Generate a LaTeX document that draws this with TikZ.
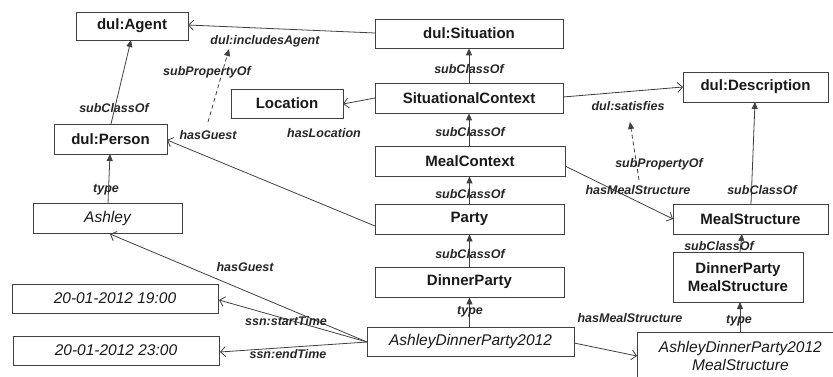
\documentclass[tikz,border=0pt]{standalone}
\usepackage{fontspec}
\setmainfont{Liberation Sans}
\usetikzlibrary{arrows.meta}
\definecolor{ln}{HTML}{404040}
\begin{document}
\begin{tikzpicture}[x=1pt,y=-1pt,
  box/.style={draw=ln,line width=0.8pt,rectangle,inner sep=0pt,font=\fontsize{15}{18}\selectfont\bfseries,text=black!90},
  ibox/.style={box,font=\fontsize{15.5}{18}\selectfont\itshape},
  lbl/.style={font=\fontsize{12.5}{14}\selectfont\bfseries\itshape,text=black!85,inner sep=0pt},
  sub/.style={draw=ln,line width=0.8pt,-{Triangle[length=7pt,width=6pt]}},
  rel/.style={draw=ln,line width=0.8pt,-{Straight Barb[length=5pt,width=10pt]}},
  subp/.style={draw=ln,line width=0.8pt,dashed,dash pattern=on 4pt off 3pt,-{Triangle[length=7pt,width=6pt]}}
]
\useasboundingbox (0,0) rectangle (833,377);
\begin{scope}
\clip (0,0) rectangle (833,377);
\node[box,minimum width=112pt,minimum height=28pt] (agent) at (132,26) {dul:Agent};
\node[box,minimum width=188pt,minimum height=29pt] (situation) at (469,33.5) {dul:Situation};
\node[box,minimum width=112pt,minimum height=29pt] (location) at (287,103.5) {Location};
\node[box,minimum width=188pt,minimum height=30pt] (sitctx) at (469,98) {SituationalContext};
\node[box,minimum width=190pt,minimum height=30pt] (mealctx) at (470,161) {MealContext};
\node[box,minimum width=145pt,minimum height=30pt] (desc) at (755.5,87) {dul:Description};
\node[box,minimum width=113pt,minimum height=30pt] (person) at (110.5,139) {dul:Person};
\node[ibox,minimum width=149pt,minimum height=30pt] (ashley) at (107.5,218) {Ashley};
\node[box,minimum width=189pt,minimum height=30pt] (party) at (469.5,219) {Party};
\node[box,minimum width=189pt,minimum height=30pt] (dinner) at (469.5,282) {DinnerParty};
\node[ibox,minimum width=207pt,minimum height=29pt] (adp) at (470.5,341.5) {AshleyDinnerParty2012};
\node[box,minimum width=155pt,minimum height=30pt] (mstruct) at (750.5,219) {MealStructure};
\node[box,minimum width=130pt,minimum height=50pt,align=center] (dpms) at (738,277) {DinnerParty\\MealStructure};
\node[ibox,minimum width=206pt,minimum height=47pt,align=center,anchor=north west,text width=206pt] (adpms) at (637,332) {AshleyDinnerParty2012\\MealStructure};
\node[ibox,minimum width=206pt,minimum height=29pt] (t1) at (115,298.5) {20-01-2012 19:00};
\node[ibox,minimum width=206pt,minimum height=29pt] (t2) at (116,350.5) {20-01-2012 23:00};

% subClassOf chain
\draw[sub] (sitctx.north) -- (situation.south);
\draw[sub] (mealctx.north -| sitctx.north) -- (sitctx.south);
\draw[sub] (party.north) -- (mealctx.south -| party.north);
\draw[sub] (dinner.north) -- (party.south);
\draw[sub] (adp.north -| dinner.north) -- (dinner.south);
\node[lbl] at (469,69) {subClassOf};
\node[lbl] at (470,132) {subClassOf};
\node[lbl] at (470,194) {subClassOf};
\node[lbl] at (470,254) {subClassOf};
\node[lbl] at (470,312) {type};

% left side
\coordinate (pTop) at (111,124);
\coordinate (aBot) at (131,40);
\draw[sub] (pTop) -- (aBot);
\node[lbl] at (114,108) {subClassOf};
\coordinate (ashTop) at (108,203);
\coordinate (perBot) at (110,154);
\draw[sub] (ashTop) -- (perBot);
\node[lbl] at (106,190) {type};

\coordinate (sitL) at (375,33);
\coordinate (agR) at (188,25);
\draw[rel] (sitL) -- (agR);
\node[lbl] at (265,41) {dul:includesAgent};

\coordinate (scL) at (375,98);
\coordinate (locR) at (343,104);
\draw[rel] (scL) -- (locR);
\node[lbl] at (324,133) {hasLocation};

\coordinate (scR) at (563,97);
\coordinate (dL) at (683,87);
\draw[rel] (scR) -- (dL);
\node[lbl] at (628,106) {dul:satisfies};

\coordinate (pL) at (375,226);
\coordinate (perR) at (167,140);
\draw[rel] (pL) -- (perR);
\node[lbl] at (208,135) {hasGuest};

\coordinate (dp1) at (208,122);
\coordinate (dp2) at (229,49);
\draw[subp] (dp1) -- (dp2);
\node[lbl] at (207,72) {subPropertyOf};

\coordinate (mcR) at (565,166);
\coordinate (msL) at (673,219);
\draw[rel] (mcR) -- (msL);
\node[lbl] at (638,190) {hasMealStructure};

\coordinate (dq1) at (639,180);
\coordinate (dq2) at (630,122);
\draw[subp] (dq1) -- (dq2);
\node[lbl] at (659,164) {subPropertyOf};

\coordinate (msT) at (751,204);
\coordinate (dB) at (755,102);
\draw[sub] (msT) -- (dB);
\node[lbl] at (762,190) {subClassOf};

\coordinate (dpmsT) at (740,252);
\coordinate (msB) at (742,234);
\draw[sub] (dpmsT) -- (msB);
\node[lbl] at (719,246) {subClassOf};

\coordinate (adpmsT) at (740,332);
\coordinate (dpmsB) at (740,302);
\draw[sub] (adpmsT) -- (dpmsB);
\node[lbl] at (739,321) {type};

\coordinate (adpR) at (574,343);
\coordinate (adpmsL) at (637,356);
\draw[rel] (adpR) -- (adpmsL);
\node[lbl] at (630,318) {hasMealStructure};

\coordinate (adpL) at (367,342);
\coordinate (ashB) at (110,234);
\draw[rel] (adpL) -- (ashB);
\node[lbl] at (245,267) {hasGuest};
\coordinate (t1R) at (219,300);
\draw[rel] (adpL) -- (t1R);
\node[lbl] at (286,321) {ssn:startTime};
\coordinate (t2R) at (220,352);
\draw[rel] (adpL) -- (t2R);
\node[lbl] at (288,354) {ssn:endTime};
\end{scope}
\end{tikzpicture}
\end{document}
